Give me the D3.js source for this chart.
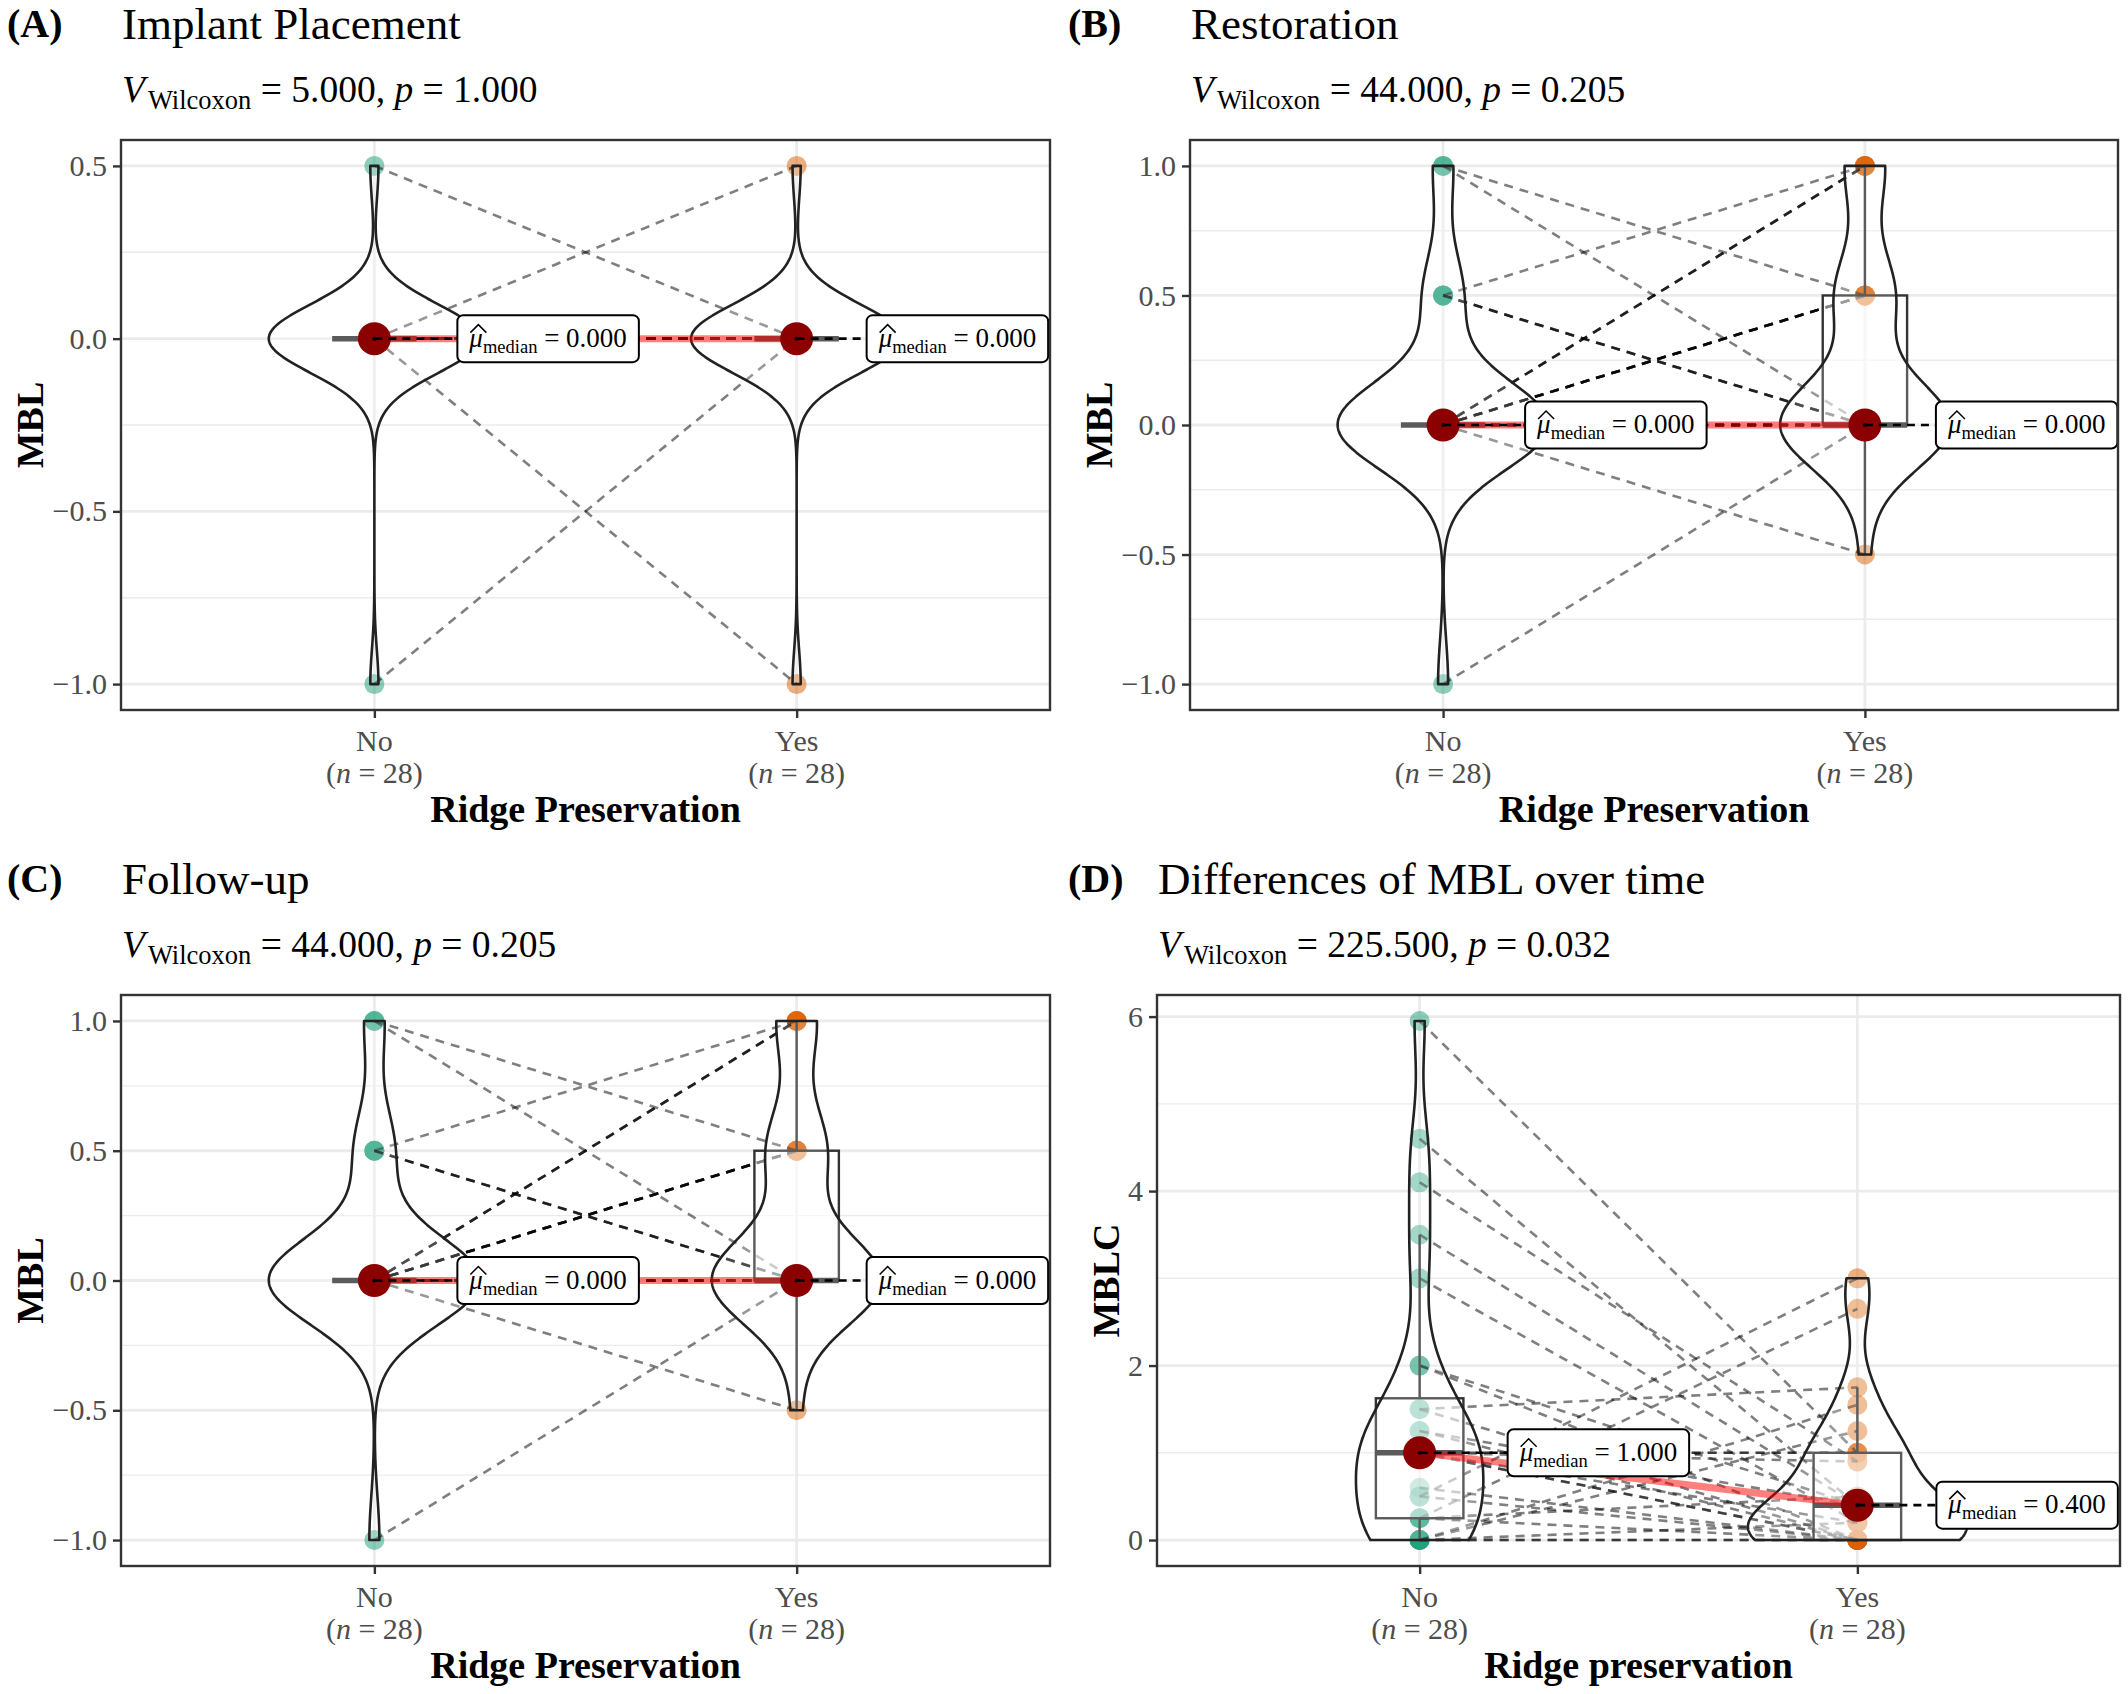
<!DOCTYPE html>
<html lang="en">
<head>
<meta charset="UTF-8">
<title>MBL ridge preservation</title>
<script src="https://cdn.jsdelivr.net/npm/d3@7"></script>
<style>
  body{margin:0;background:#fff;}
  svg{display:block;}
  text{font-family:"Liberation Serif","Times New Roman",serif;}
</style>
</head>
<body>
<div id="chart"></div>
<script>
var W = 2128, H = 1694;
var FONT = '"Liberation Serif","Times New Roman",serif';

// groups and colours
var groups = ["No", "Yes"];
var colors = ["#1B9E77", "#D95F02"];

// paired values, index i of No goes with index i of Yes
var implantNo  = [0.5, 0, 0, -1, 0, 0, 0, 0, 0, 0, 0, 0, 0, 0, 0, 0, 0, 0, 0, 0, 0, 0, 0, 0, 0, 0, 0, 0];
var implantYes = [0, 0.5, -1, 0, 0, 0, 0, 0, 0, 0, 0, 0, 0, 0, 0, 0, 0, 0, 0, 0, 0, 0, 0, 0, 0, 0, 0, 0];

var restorationNo  = [1, 1, 0.5, 0.5, 0.5, 0.5, 0, 0, 0, 0, 0, 0, 0, 0, 0, -1, 0, 0, 0, 0, 0, 0, 0, 0, 0, 0, 0, 0];
var restorationYes = [0.5, 0, 1, 0, 0, 0, 1, 1, 1, 0.5, 0.5, 0.5, 0.5, 0.5, -0.5, 0, 0, 0, 0, 0, 0, 0, 0, 0, 0, 0, 0, 0];

var followNo  = [1, 1, 0.5, 0.5, 0.5, 0.5, 0, 0, 0, 0, 0, 0, 0, 0, 0, -1, 0, 0, 0, 0, 0, 0, 0, 0, 0, 0, 0, 0];
var followYes = [0.5, 0, 1, 0, 0, 0, 1, 1, 1, 0.5, 0.5, 0.5, 0.5, 0.5, -0.5, 0, 0, 0, 0, 0, 0, 0, 0, 0, 0, 0, 0, 0];

var mblcNo  = [5.95, 4.6, 4.1, 3.5, 3.0, 2.0, 2.0, 1.5, 1.5, 1.25, 1.25, 1.0, 1.0, 1.0, 1.0, 1.0, 1.0, 0.6, 0.5, 0.5, 0.25, 0.25, 0.25, 0, 0, 0, 0, 0];
var mblcYes = [1.0, 0.4, 0.9, 0.4, 0.2, 0, 0.4, 1.75, 0, 0.4, 0, 0, 0, 0.2, 1.0, 0.9, 1.0, 0, 3.0, 0, 2.65, 0, 0.5, 1.55, 1.25, 0, 0, 0.2];

// texts
var tags    = ["(A)", "(B)", "(C)", "(D)"];
var titles  = ["Implant Placement", "Restoration", "Follow-up", "Differences of MBL over time"];
var statV   = ["5.000", "44.000", "44.000", "225.500"];
var statP   = ["1.000", "0.205", "0.205", "0.032"];
var yTitles = ["MBL", "MBL", "MBL", "MBLC"];
var xTitles = ["Ridge Preservation", "Ridge Preservation", "Ridge Preservation", "Ridge preservation"];

// tick values
var ticksA = [-1, -0.5, 0, 0.5];
var ticksBC = [-1, -0.5, 0, 0.5, 1];
var ticksD = [0, 2, 4, 6];

// panel boxes (pixels) and label offsets from the median points
var layout = [
  {tagX: 7,    x0: 121,  x1: 1050, y0: 140, y1: 710,  lab: [83, 70]},
  {tagX: 1068, x0: 1190, x1: 2118, y0: 140, y1: 710,  lab: [82, 71]},
  {tagX: 7,    x0: 121,  x1: 1050, y0: 995, y1: 1566, lab: [83, 70]},
  {tagX: 1068, x0: 1157, x1: 2120, y0: 995, y1: 1566, lab: [88, 79]}
];

var svg = d3.select("#chart").append("svg")
    .attr("width", W).attr("height", H)
    .style("background", "#fff");

function bwNrd0(v) {
    var s = v.slice().sort(d3.ascending);
    var hi = d3.deviation(s);
    var iqr = d3.quantile(s, 0.75) - d3.quantile(s, 0.25);
    var lo = Math.min(hi, iqr / 1.34);
    if (!(lo > 0)) lo = hi || Math.abs(s[0]) || 1;
    return 0.9 * lo * Math.pow(s.length, -0.2);
}

function kde(v, bw) {
    var ext = d3.extent(v);
    return d3.range(512).map(function(k){
        var t = ext[0] + (ext[1] - ext[0]) * k / 511;
        var dens = d3.mean(v, function(xi){
            var u = (t - xi) / bw;
            return Math.exp(-0.5 * u * u);
        }) / (bw * Math.sqrt(2 * Math.PI));
        return [t, dens];
    });
}

function boxStats(v) {
    var s = v.slice().sort(d3.ascending);
    var q1 = d3.quantile(s, 0.25), med = d3.quantile(s, 0.5), q3 = d3.quantile(s, 0.75);
    var iqr = q3 - q1;
    var up = d3.max(s.filter(function(d){ return d <= q3 + 1.5 * iqr; }));
    var lo = d3.min(s.filter(function(d){ return d >= q1 - 1.5 * iqr; }));
    return {q1: q1, med: med, q3: q3, up: up, lo: lo};
}

function drawPanel(idx, noVals, yesVals, ticks, tickFmt) {
    var L = layout[idx];
    var g = svg.append("g");
    var series = [noVals, yesVals];

    var x = d3.scalePoint().domain(groups).range([L.x0, L.x1]).padding(0.6);
    var step = x.step();
    var ext = d3.extent(noVals.concat(yesVals));
    var pad = (ext[1] - ext[0]) * 0.05;
    var y = d3.scaleLinear().domain([ext[0] - pad, ext[1] + pad]).range([L.y1, L.y0]);

    // grid
    var minor = d3.pairs(ticks).map(function(p){ return (p[0] + p[1]) / 2; });
    g.selectAll(".minor").data(minor).enter().append("line")
        .attr("x1", L.x0).attr("x2", L.x1)
        .attr("y1", function(d){ return y(d); }).attr("y2", function(d){ return y(d); })
        .attr("stroke", "#EBEBEB").attr("stroke-width", 1.4);
    g.selectAll(".major").data(ticks).enter().append("line")
        .attr("x1", L.x0).attr("x2", L.x1)
        .attr("y1", function(d){ return y(d); }).attr("y2", function(d){ return y(d); })
        .attr("stroke", "#EBEBEB").attr("stroke-width", 2.8);
    g.selectAll(".vgrid").data(groups).enter().append("line")
        .attr("x1", function(d){ return x(d); }).attr("x2", function(d){ return x(d); })
        .attr("y1", L.y0).attr("y2", L.y1)
        .attr("stroke", "#EBEBEB").attr("stroke-width", 2.8);

    // points
    groups.forEach(function(grp, gi){
        g.append("g").selectAll("circle").data(series[gi]).enter().append("circle")
            .attr("cx", x(grp)).attr("cy", function(d){ return y(d); })
            .attr("r", 10)
            .attr("fill", colors[gi]).attr("fill-opacity", 0.5);
    });

    // paired paths
    g.append("g").selectAll("line").data(noVals).enter().append("line")
        .attr("x1", x("No")).attr("y1", function(d){ return y(d); })
        .attr("x2", x("Yes")).attr("y2", function(d, i){ return y(yesVals[i]); })
        .attr("stroke", "#000").attr("stroke-opacity", 0.5)
        .attr("stroke-width", 2.6).attr("stroke-dasharray", "9,7");

    // boxplots
    groups.forEach(function(grp, gi){
        var b = boxStats(series[gi]);
        var cx = x(grp), hw = 0.1 * step;
        var bg = g.append("g");
        bg.append("line").attr("x1", cx).attr("x2", cx)
            .attr("y1", y(b.q3)).attr("y2", y(b.up))
            .attr("stroke", "#333").attr("stroke-width", 2.4);
        bg.append("line").attr("x1", cx).attr("x2", cx)
            .attr("y1", y(b.q1)).attr("y2", y(b.lo))
            .attr("stroke", "#333").attr("stroke-width", 2.4);
        bg.append("rect")
            .attr("x", cx - hw).attr("width", 2 * hw)
            .attr("y", y(b.q3)).attr("height", Math.max(0, y(b.q1) - y(b.q3)))
            .attr("fill", "#fff").attr("fill-opacity", 0.5)
            .attr("stroke", "#333").attr("stroke-width", 2.4);
        bg.append("line").attr("x1", cx - hw).attr("x2", cx + hw)
            .attr("y1", y(b.med)).attr("y2", y(b.med))
            .attr("stroke", "#333").attr("stroke-width", 5.5);
    });

    // violins, area scaled across the panel
    var dens = series.map(function(v){ return kde(v, bwNrd0(v)); });
    var maxD = d3.max(dens, function(dd){ return d3.max(dd, function(p){ return p[1]; }); });
    groups.forEach(function(grp, gi){
        var cx = x(grp);
        var hw = function(p){ return 0.25 * step * p[1] / maxD; };
        var area = d3.area()
            .x0(function(p){ return cx - hw(p); })
            .x1(function(p){ return cx + hw(p); })
            .y(function(p){ return y(p[0]); });
        g.append("path").attr("d", area(dens[gi]))
            .attr("fill", "#fff").attr("fill-opacity", 0.2)
            .attr("stroke", "#222").attr("stroke-width", 2.6)
            .attr("stroke-linejoin", "round");
    });

    // medians
    var meds = series.map(function(v){ return d3.median(v); });
    g.append("line")
        .attr("x1", x("No")).attr("y1", y(meds[0]))
        .attr("x2", x("Yes")).attr("y2", y(meds[1]))
        .attr("stroke", "red").attr("stroke-opacity", 0.5).attr("stroke-width", 7);
    groups.forEach(function(grp, gi){
        g.append("circle").attr("cx", x(grp)).attr("cy", y(meds[gi]))
            .attr("r", 16.5).attr("fill", "#8B0000");
    });

    // median labels
    var f3 = d3.format(".3f");
    groups.forEach(function(grp, gi){
        var px = x(grp), py = y(meds[gi]);
        var lx = px + L.lab[gi];
        g.append("line").attr("x1", px).attr("y1", py).attr("x2", lx).attr("y2", py)
            .attr("stroke", "#000").attr("stroke-width", 2.6).attr("stroke-dasharray", "8,6");
        g.append("circle").attr("cx", px).attr("cy", py).attr("r", 2).attr("fill", "#000");
        var lg = g.append("g").attr("transform", "translate(" + lx + "," + py + ")");
        var rect = lg.append("rect");
        var t = lg.append("text").attr("x", 12).attr("y", 8)
            .style("font-size", "27px").attr("fill", "#000");
        t.append("tspan").attr("font-style", "italic").text("\u03BC");
        t.append("tspan").style("font-size", "18.5px").attr("dy", 6).text("median");
        t.append("tspan").attr("dy", -6).text(" = " + f3(meds[gi]));
        var tw = t.node().getComputedTextLength();
        rect.attr("x", 0).attr("y", -23.5).attr("width", tw + 24).attr("height", 47)
            .attr("rx", 6).attr("fill", "#fff").attr("stroke", "#000").attr("stroke-width", 2);
        lg.append("path").attr("d", "M13,-6 L21,-14 L29,-6")
            .attr("fill", "none").attr("stroke", "#000").attr("stroke-width", 1.5);
    });

    // panel border
    g.append("rect").attr("x", L.x0).attr("y", L.y0)
        .attr("width", L.x1 - L.x0).attr("height", L.y1 - L.y0)
        .attr("fill", "none").attr("stroke", "#333").attr("stroke-width", 2.4);

    // y axis
    var ya = g.append("g").attr("transform", "translate(" + L.x0 + ",0)")
        .call(d3.axisLeft(y).tickValues(ticks).tickFormat(tickFmt).tickSize(8).tickPadding(6))
        .attr("font-family", FONT).attr("font-size", 30);
    ya.select(".domain").remove();
    ya.selectAll("line").attr("stroke", "#333").attr("stroke-width", 2.4);
    ya.selectAll("text").attr("fill", "#4D4D4D");
    var bb = ya.node().getBBox();   // local to the axis group

    // x axis
    var xa = g.append("g").attr("transform", "translate(0," + L.y1 + ")")
        .call(d3.axisBottom(x).tickSize(8).tickFormat(""));
    xa.select(".domain").remove();
    xa.selectAll("line").attr("stroke", "#333").attr("stroke-width", 2.4);
    groups.forEach(function(grp, gi){
        g.append("text").attr("x", x(grp)).attr("y", L.y1 + 41)
            .attr("text-anchor", "middle").style("font-size", "30px").attr("fill", "#4D4D4D")
            .text(grp);
        var nt = g.append("text").attr("x", x(grp)).attr("y", L.y1 + 73)
            .attr("text-anchor", "middle").style("font-size", "30px").attr("fill", "#4D4D4D");
        nt.append("tspan").text("(");
        nt.append("tspan").attr("font-style", "italic").text("n");
        nt.append("tspan").text(" = " + series[gi].length + ")");
    });

    // axis titles
    g.append("text").attr("x", (L.x0 + L.x1) / 2).attr("y", L.y1 + 112)
        .attr("text-anchor", "middle").style("font-size", "38px").attr("font-weight", "bold")
        .text(xTitles[idx]);
    var ytx = L.x0 + bb.x - 22, yty = (L.y0 + L.y1) / 2;
    g.append("text").attr("transform", "translate(" + ytx + "," + yty + ") rotate(-90)")
        .attr("text-anchor", "middle").attr("dy", "0.33em")
        .style("font-size", "38px").attr("font-weight", "bold")
        .text(yTitles[idx]);

    // tag, title, subtitle
    g.append("text").attr("x", L.tagX).attr("y", L.y0 - 103)
        .style("font-size", "40px").attr("font-weight", "bold").text(tags[idx]);
    g.append("text").attr("x", L.x0 + 1).attr("y", L.y0 - 101)
        .style("font-size", "45px").text(titles[idx]);
    var st = g.append("text").attr("x", L.x0 + 1).attr("y", L.y0 - 38)
        .style("font-size", "37.5px");
    st.append("tspan").attr("font-style", "italic").text("V");
    st.append("tspan").style("font-size", "26.5px").attr("dx", 3).attr("dy", 7).text("Wilcoxon");
    st.append("tspan").attr("dy", -7).text(" = " + statV[idx] + ", ");
    st.append("tspan").attr("font-style", "italic").text("p");
    st.append("tspan").text(" = " + statP[idx]);
}

var f1 = d3.format(".1f"), f0 = d3.format("d");
drawPanel(0, implantNo, implantYes, ticksA, f1);
drawPanel(1, restorationNo, restorationYes, ticksBC, f1);
drawPanel(2, followNo, followYes, ticksBC, f1);
drawPanel(3, mblcNo, mblcYes, ticksD, f0);
</script>
</body>
</html>
